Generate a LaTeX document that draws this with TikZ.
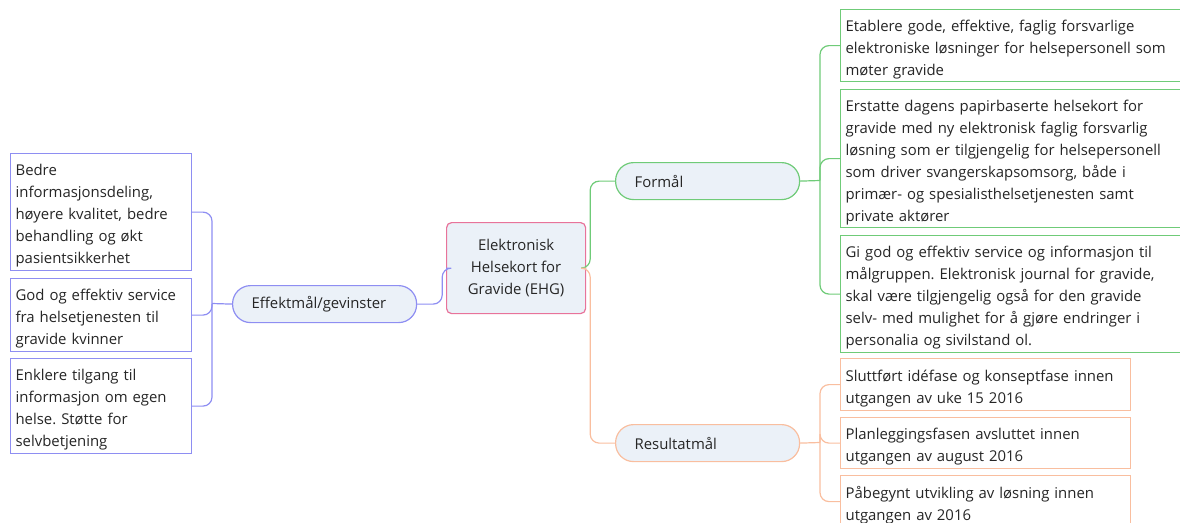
\documentclass[tikz,border=0pt]{standalone}
\usepackage{fontspec}
\setmainfont{Open Sans}
\usetikzlibrary{calc}
\definecolor{cgreen}{HTML}{6FCB78}
\definecolor{corange}{HTML}{F9BE9F}
\definecolor{cblue}{HTML}{8E8EF2}
\definecolor{cpink}{HTML}{E8739A}
\definecolor{cfill}{HTML}{EBF1F8}
\definecolor{ctext}{HTML}{262626}
\begin{document}
\frenchspacing
\begin{tikzpicture}[x=1pt,y=-1pt,
  every node/.style={font=\fontsize{14.9}{22}\selectfont, text=ctext},
  box/.style={draw, line width=1.2pt, anchor=north west, inner ysep=0pt, inner xsep=5pt, align=left, fill=white,
    execute at begin node={\rule{0pt}{19pt}}},
  pill/.style={draw, line width=1.2pt, fill=cfill, rounded corners=18pt, anchor=north west, inner xsep=19pt, inner ysep=0pt, align=left},
  link/.style={line width=1.2pt, rounded corners=9pt},
]
\useasboundingbox (0,0) rectangle (1180,522);
\clip (0,0) rectangle (1180,522);

% central node
\node[draw=cpink, line width=1.2pt, fill=cfill, rounded corners=5pt, anchor=north west,
      minimum width=139pt, minimum height=91pt, inner sep=0pt, align=center,
      execute at begin node={\rule{0pt}{16pt}}] (ehg) at (446,222)
      {Elektronisk\\Helsekort for\\Gravide (EHG)};

% main branches
\node[pill, draw=cblue, minimum width=184pt, minimum height=37pt, text width=146pt] (eff) at (232,285) {Effektmål/gevinster};
\node[pill, draw=cgreen, minimum width=184pt, minimum height=37pt, text width=146pt] (form) at (615,162) {Formål};
\node[pill, draw=corange, minimum width=184pt, minimum height=37pt, text width=146pt] (res) at (615,424) {Resultatmål};

% left boxes
\node[box, draw=cblue, text width=171pt, minimum height=117pt] (b1) at (10,153)
  {Bedre\\informasjonsdeling,\\høyere kvalitet, bedre\\behandling og økt\\pasientsikkerhet};
\node[box, draw=cblue, text width=171pt, minimum height=73pt] (b2) at (10,278)
  {God og effektiv service\\fra helsetjenesten til\\gravide kvinner};
\node[box, draw=cblue, text width=171pt, minimum height=95pt] (b3) at (10,358)
  {Enklere tilgang til\\informasjon om egen\\helse. Støtte for\\selvbetjening};

% right green boxes
\node[box, draw=cgreen, text width=340pt, minimum height=72pt] (r1) at (840,9)
  {Etablere gode, effektive, faglig forsvarlige\\elektroniske løsninger for helsepersonell som\\møter gravide};
\node[box, draw=cgreen, text width=340pt, minimum height=138pt] (r2) at (840,89)
  {Erstatte dagens papirbaserte helsekort for\\gravide med ny elektronisk faglig forsvarlig\\løsning som er tilgjengelig for helsepersonell\\som driver svangerskapsomsorg, både i\\primær- og spesialisthelsetjenesten samt\\private aktører};
\node[box, draw=cgreen, text width=340pt, minimum height=117pt] (r3) at (840,235)
  {Gi god og effektiv service og informasjon til\\målgruppen. Elektronisk journal for gravide,\\skal være tilgjengelig også for den gravide\\selv- med mulighet for å gjøre endringer i\\personalia og sivilstand ol.};

% right orange boxes
\node[box, draw=corange, text width=280pt, minimum height=52pt] (s1) at (840,358)
  {Sluttført idéfase og konseptfase innen\\utgangen av uke 15 2016};
\node[box, draw=corange, text width=280pt, minimum height=51pt] (s2) at (840,417)
  {Planleggingsfasen avsluttet innen\\utgangen av august 2016};
\node[box, draw=corange, text width=280pt, minimum height=52pt] (s3) at (840,475)
  {Påbegynt utvikling av løsning innen\\utgangen av 2016};

% join points
\coordinate (ej) at (212,303.5);
\coordinate (fj) at (820,180.5);
\coordinate (rj) at (820,442.5);

% connectors
\draw[link, cblue] (eff.east) -- ++(25,0) |- (ehg.west);
\draw[link, cgreen] (ehg.east) -- ++(4,0) |- (form.west);
\draw[link, corange] (ehg.east) -- ++(4,0) |- (res.west);

\draw[link, cblue] (eff.west) -- (ej);
\draw[link, cblue] (b1.east) -| (ej);
\draw[link, cblue] (b2.east) -| (ej);
\draw[link, cblue] (b3.east) -| (ej);

\draw[link, cgreen] (form.east) -- (fj);
\draw[link, cgreen] (r1.west) -| (fj);
\draw[link, cgreen] (r2.west) -| (fj);
\draw[link, cgreen] (r3.west) -| (fj);

\draw[link, corange] (res.east) -- (rj);
\draw[link, corange] (s1.west) -| (rj);
\draw[link, corange] (s2.west) -| (rj);
\draw[link, corange] (s3.west) -| (rj);
\end{tikzpicture}
\end{document}
